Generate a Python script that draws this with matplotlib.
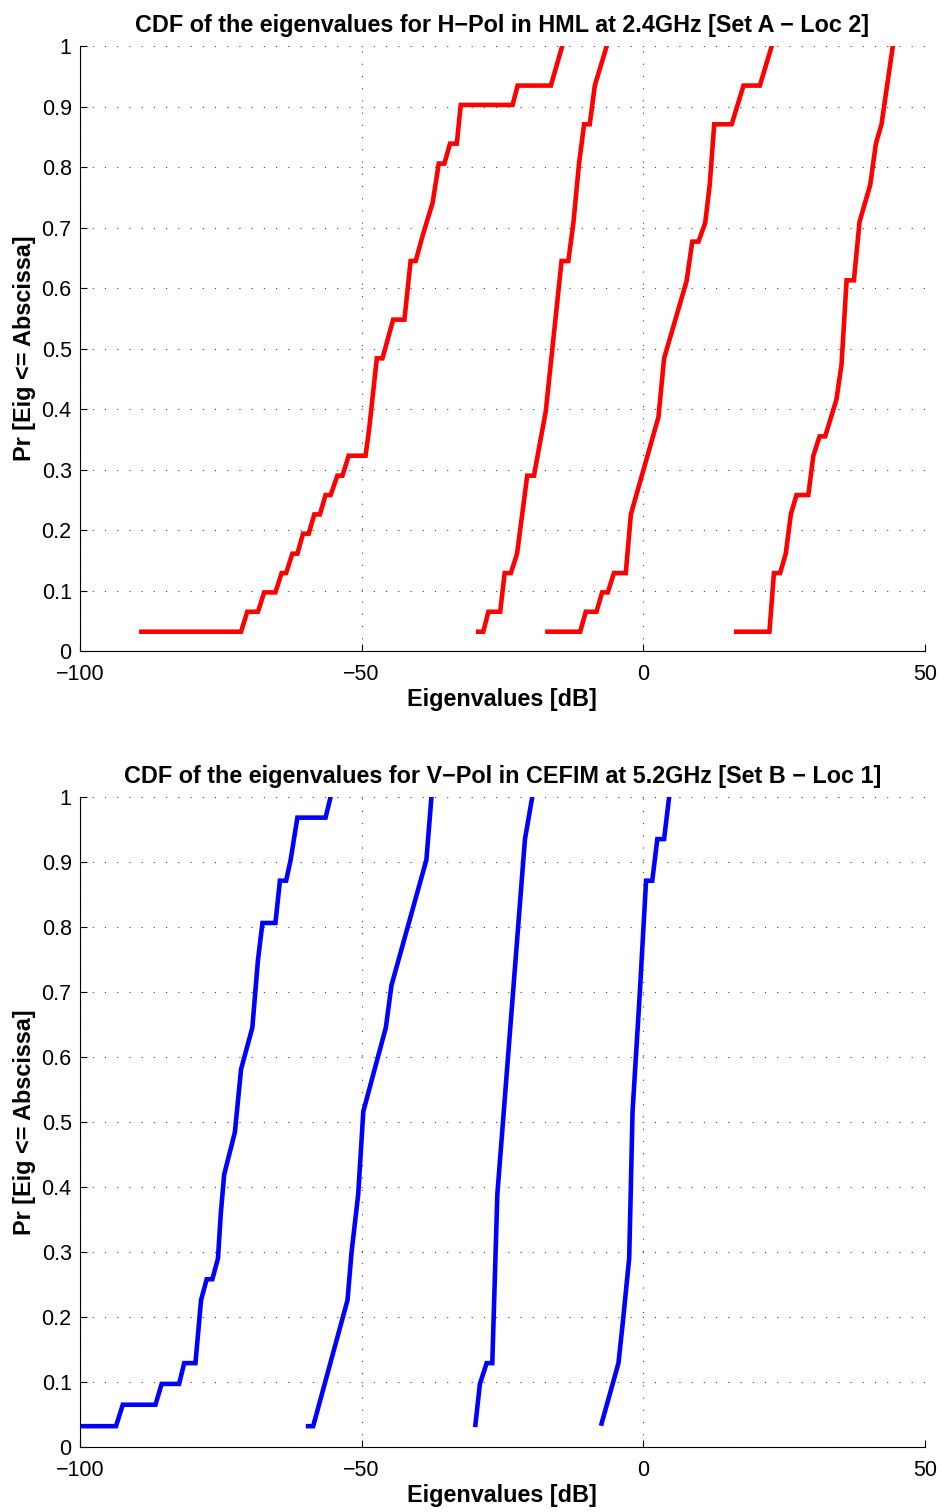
import numpy as np
import matplotlib
matplotlib.use("Agg")
import matplotlib.pyplot as plt

plt.rcParams['font.family'] = ['Liberation Sans', 'DejaVu Sans']

# ---- top panel: H-Pol, HML, 2.4GHz (red)
a1_x = [-89.1, -71.4, -70.3, -68.4, -67.3, -65.3, -64.2, -63.4, -62.3, -61.4, -60.4, -59.4,
        -58.4, -57.4, -56.4, -55.5, -54.3, -53.4, -52.3, -49.3, -48.7, -47.3, -46.3, -44.4,
        -42.4, -41.3, -40.4, -39.1, -37.4, -36.3, -35.3, -34.3, -33.1, -32.4, -23.2, -22.3,
        -16.4, -14.4]
a1_y = [0.032, 0.032, 0.065, 0.065, 0.097, 0.097, 0.129, 0.129, 0.161, 0.161, 0.194, 0.194,
        0.226, 0.226, 0.258, 0.258, 0.290, 0.290, 0.323, 0.323, 0.364, 0.484, 0.484, 0.548,
        0.548, 0.645, 0.645, 0.689, 0.741, 0.806, 0.806, 0.839, 0.839, 0.903, 0.903, 0.935,
        0.935, 1.0]

a2_x = [-29.3, -28.4, -27.5, -25.4, -24.6, -23.5, -22.4, -20.6, -19.4, -17.3, -14.5, -13.3,
        -12.4, -11.4, -10.5, -9.5, -8.6, -6.5]
a2_y = [0.032, 0.032, 0.065, 0.065, 0.129, 0.129, 0.161, 0.290, 0.290, 0.397, 0.645, 0.645,
        0.708, 0.806, 0.871, 0.871, 0.935, 1.0]

a3_x = [-17.0, -11.2, -10.2, -8.3, -7.3, -6.3, -5.2, -3.1, -2.2, 2.7, 3.7, 7.7, 8.7, 9.8,
        11.0, 11.8, 12.6, 15.7, 17.8, 20.7, 22.8]
a3_y = [0.032, 0.032, 0.065, 0.065, 0.097, 0.097, 0.129, 0.129, 0.226, 0.387, 0.484, 0.612,
        0.677, 0.677, 0.708, 0.771, 0.871, 0.871, 0.935, 0.935, 1.0]

a4_x = [16.5, 22.4, 23.2, 24.3, 25.3, 26.2, 27.2, 29.3, 30.2, 31.3, 32.3, 34.3, 35.2, 36.1,
        37.4, 38.4, 40.3, 41.3, 42.3, 44.3]
a4_y = [0.032, 0.032, 0.129, 0.129, 0.161, 0.226, 0.258, 0.258, 0.323, 0.355, 0.355, 0.416,
        0.474, 0.613, 0.613, 0.710, 0.771, 0.839, 0.871, 1.0]

# ---- bottom panel: V-Pol, CEFIM, 5.2GHz (blue)
b1_x = [-101.0, -93.6, -92.4, -86.6, -85.5, -82.4, -81.5, -79.5, -78.5, -77.5, -76.5, -75.5,
        -75.0, -74.4, -72.5, -71.4, -69.4, -68.4, -67.6, -65.3, -64.5, -63.4, -62.6, -61.4,
        -56.4, -55.5]
b1_y = [0.032, 0.032, 0.065, 0.065, 0.097, 0.097, 0.129, 0.129, 0.226, 0.258, 0.258, 0.290,
        0.359, 0.419, 0.484, 0.581, 0.645, 0.749, 0.806, 0.806, 0.871, 0.871, 0.903, 0.968,
        0.968, 1.0]

b2_x = [-59.5, -58.6, -52.5, -51.8, -50.6, -49.7, -45.7, -44.7, -38.5, -37.6]
b2_y = [0.032, 0.032, 0.226, 0.298, 0.389, 0.516, 0.645, 0.710, 0.903, 1.0]

b3_x = [-29.8, -29.0, -27.8, -26.8, -25.9, -21.0, -19.7]
b3_y = [0.034, 0.097, 0.129, 0.129, 0.389, 0.935, 1.0]

b4_x = [-7.4, -4.4, -3.6, -2.5, -2.2, -1.9, -0.6, 0.5, 1.6, 2.5, 3.7, 4.6]
b4_y = [0.036, 0.129, 0.194, 0.290, 0.400, 0.516, 0.700, 0.871, 0.871, 0.935, 0.935, 1.0]

panels = [
    ('CDF of the eigenvalues for H\u2212Pol in HML at 2.4GHz [Set A \u2212 Loc 2]',
     [(a1_x, a1_y), (a2_x, a2_y), (a3_x, a3_y), (a4_x, a4_y)], 'red'),
    ('CDF of the eigenvalues for V\u2212Pol in CEFIM at 5.2GHz [Set B \u2212 Loc 1]',
     [(b1_x, b1_y), (b2_x, b2_y), (b3_x, b3_y), (b4_x, b4_y)], 'blue'),
]

fig = plt.figure(figsize=(9.43, 15.12), dpi=100)
rects = [[0.0848, 0.5694, 0.896, 0.400], [0.0848, 0.0430, 0.896, 0.430]]

yticks = np.round(np.arange(0, 1.01, 0.1), 1)
ylabels = ['0'] + ['%.1f' % v for v in yticks[1:-1]] + ['1']

for rect, (title, curves, col) in zip(rects, panels):
    ax = fig.add_axes(rect)
    for cx, cy in curves:
        ax.plot(cx, cy, color=col, linewidth=3.3, solid_joinstyle='miter')
    ax.set_xlim(-100, 50)
    ax.set_ylim(0, 1)
    ax.set_xticks([-100, -50, 0, 50])
    ax.set_yticks(yticks)
    ax.set_yticklabels(ylabels)
    ax.grid(True, color='0.25', linestyle=(0, (1, 10)), linewidth=0.8)
    for s in ['top', 'right']:
        ax.spines[s].set_visible(False)
    ax.tick_params(direction='in', length=5, labelsize=15.5)
    ax.tick_params(axis='x', pad=9.5)
    ax.tick_params(axis='y', pad=6)
    ax.set_title(title, fontsize=16.8, fontweight='bold', pad=10)
    ax.set_xlabel('Eigenvalues [dB]', fontsize=16.8, fontweight='bold', labelpad=2)
    ax.set_ylabel('Pr [Eig <= Abscissa]', fontsize=16.8, fontweight='bold', labelpad=4)

fig.savefig('out.png', dpi=100)
